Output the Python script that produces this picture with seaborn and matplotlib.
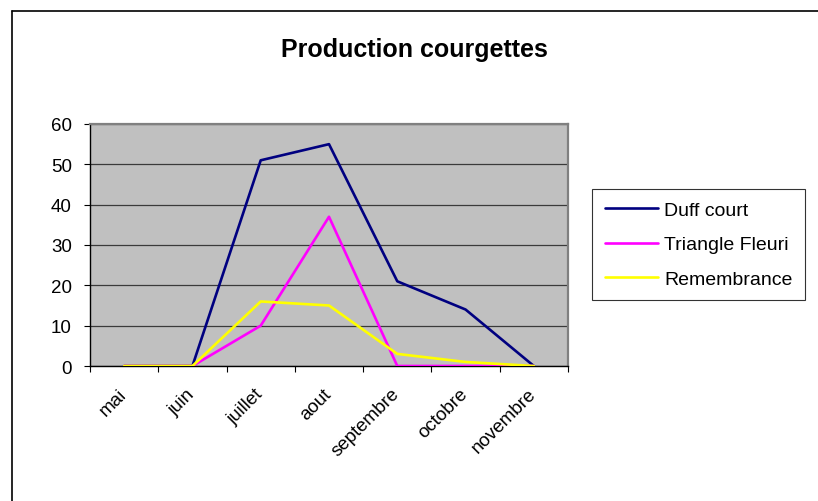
import numpy as np
import pandas as pd
import matplotlib
matplotlib.use("Agg")
import matplotlib.pyplot as plt
from matplotlib.lines import Line2D
import seaborn as sns

months = ["mai", "juin", "juillet", "aout", "septembre", "octobre", "novembre"]
duff_court = [0, 0, 51, 55, 21, 14, 0]
triangle_fleuri = [0, 0, 10, 37, 0, 0, 0]
remembrance = [0, 0, 16, 15, 3, 1, 0]
series_names = ["Duff court", "Triangle Fleuri", "Remembrance"]
colors = ["#000080", "#FF00FF", "#FFFF00"]
yticks = [0, 10, 20, 30, 40, 50, 60]

sns.set_style("white")
plt.rcParams["font.family"] = ["Liberation Sans", "DejaVu Sans"]
plt.rcParams["text.color"] = "black"
plt.rcParams["xtick.color"] = "black"
plt.rcParams["ytick.color"] = "black"

df = pd.DataFrame({
    "mois": months * 3,
    "valeur": duff_court + triangle_fleuri + remembrance,
    "serie": sum([[n] * len(months) for n in series_names], []),
})

W, H = 818, 502
fig = plt.figure(figsize=(W / 100, H / 100), dpi=100)
ax = fig.add_axes([90 / W, 1 - 367 / H, 478 / W, 242 / H])
ax.set_facecolor("#C0C0C0")

sns.lineplot(data=df, x="mois", y="valeur", hue="serie", hue_order=series_names,
             palette=colors, sort=False, linewidth=1.9, ax=ax, legend=False, zorder=3)

ax.set_xlim(-0.5, 6.5)
ax.set_ylim(0, 60)
ax.set_yticks(yticks)
ax.set_yticklabels([str(v) for v in yticks], fontsize=13.5, color="black")
ax.yaxis.grid(True, color="#3a3a3a", linewidth=0.9)
ax.set_axisbelow(True)
ax.set_xlabel("")
ax.set_ylabel("")

ax.set_xticks(range(len(months)))
ax.set_xticklabels(months, rotation=45, ha="right", va="center",
                   rotation_mode="anchor", fontsize=13.5, color="black")
ax.set_xticks(np.arange(-0.5, len(months), 1.0), minor=True)
ax.tick_params(axis="x", which="major", length=0, pad=18)
ax.tick_params(axis="x", which="minor", length=4, width=0.8, color="black", direction="out", bottom=True)
ax.tick_params(axis="y", which="major", length=4, width=0.8, color="black", direction="out", left=True, pad=9)

for s in ["left", "bottom"]:
    ax.spines[s].set_color("black")
    ax.spines[s].set_linewidth(1.0)
for s in ["top", "right"]:
    ax.spines[s].set_visible(True)
    ax.spines[s].set_color("#808080")
    ax.spines[s].set_linewidth(1.6)

fig.text(414 / W, 1 - 50 / H, "Production courgettes", ha="center", va="center",
         fontsize=18, fontweight="bold", color="black")

handles = [Line2D([0], [0], color=c, linewidth=1.9) for c in colors]
leg = fig.legend(handles, series_names, loc="upper left",
                 bbox_to_anchor=(592 / W, 1 - 190 / H), frameon=True, fancybox=False,
                 fontsize=14, handlelength=2.75, handletextpad=0.3, labelspacing=0.85,
                 borderpad=0.65, borderaxespad=0)
leg.get_frame().set_edgecolor("black")
leg.get_frame().set_linewidth(0.8)
for t in leg.get_texts():
    t.set_color("black")

fig.add_artist(Line2D([12 / W, 12 / W], [0, 1 - 12 / H], color="black", linewidth=1.2))
fig.add_artist(Line2D([12 / W, 1], [1 - 12 / H, 1 - 12 / H], color="black", linewidth=1.2))

fig.savefig("out.png", dpi=100, facecolor="white")
